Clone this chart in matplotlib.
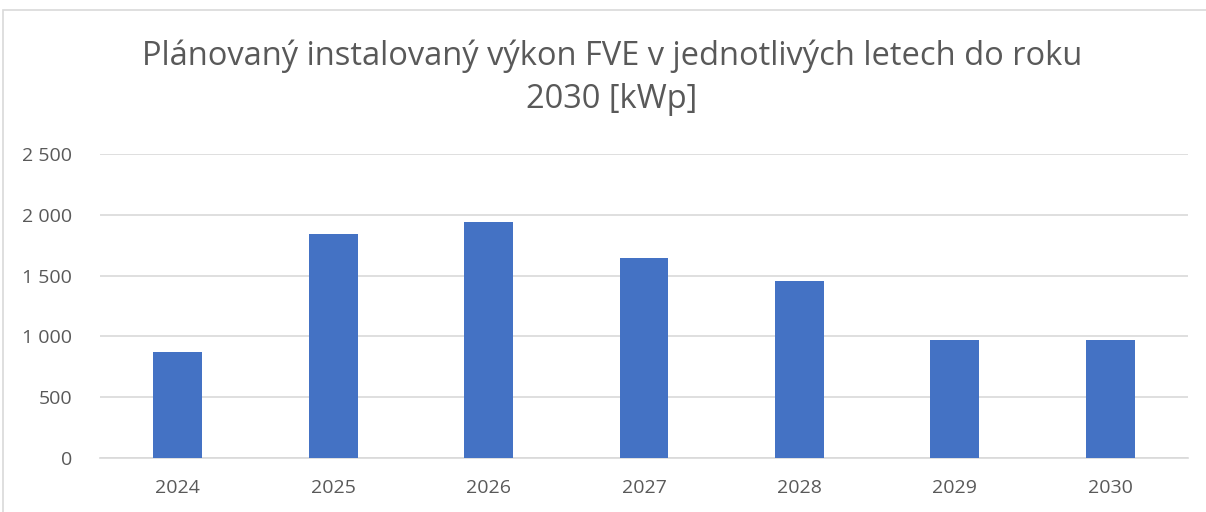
import matplotlib.pyplot as plt
from matplotlib.ticker import FuncFormatter
from matplotlib.patches import Rectangle
import numpy as np

years = ['2024', '2025', '2026', '2027', '2028', '2029', '2030']
vykon = [873, 1843, 1939, 1645, 1455, 969, 969]
yticks = [0, 500, 1000, 1500, 2000, 2500]

plt.rcParams['font.family'] = ['Open Sans', 'DejaVu Sans']
gray = '#595959'

W, H = 1206, 512
fig = plt.figure(figsize=(W / 100, H / 100), dpi=100)
ax = fig.add_axes([100 / W, 1 - 458 / H, 1088 / W, 304 / H])

# okraj grafu
fig.patches.append(Rectangle((3 / W, -0.1), 1.2, 1 - 10 / H + 0.1,
                             transform=fig.transFigure, fill=False,
                             edgecolor='#d9d9d9', lw=1.2))

x = np.arange(len(years))
ax.bar(x, vykon, width=0.315, color='#4472c4', zorder=3)
ax.set_xlim(-0.5, len(years) - 0.5)
ax.set_ylim(0, 2500)
ax.set_yticks(yticks)
ax.yaxis.set_major_formatter(FuncFormatter(lambda v, p: f'{int(v):,}'.replace(',', ' ')))
ax.set_xticks(x)
ax.set_xticklabels(years)
ax.grid(axis='y', color='#d9d9d9', lw=1.2, zorder=0)
for s in ['top', 'right', 'left']:
    ax.spines[s].set_visible(False)
ax.spines['bottom'].set_color('#d9d9d9')
ax.spines['bottom'].set_linewidth(1.2)
ax.tick_params(axis='both', length=0, colors=gray, labelsize=14)
ax.tick_params(axis='y', pad=20)
ax.tick_params(axis='x', pad=15)

fig.text(612 / W, 1 - 78 / H,
         'Plánovaný instalovaný výkon FVE v jednotlivých letech do roku\n2030 [kWp]',
         ha='center', va='center', fontsize=23.5, color=gray, linespacing=1.4)

fig.savefig('out.png', dpi=100)
